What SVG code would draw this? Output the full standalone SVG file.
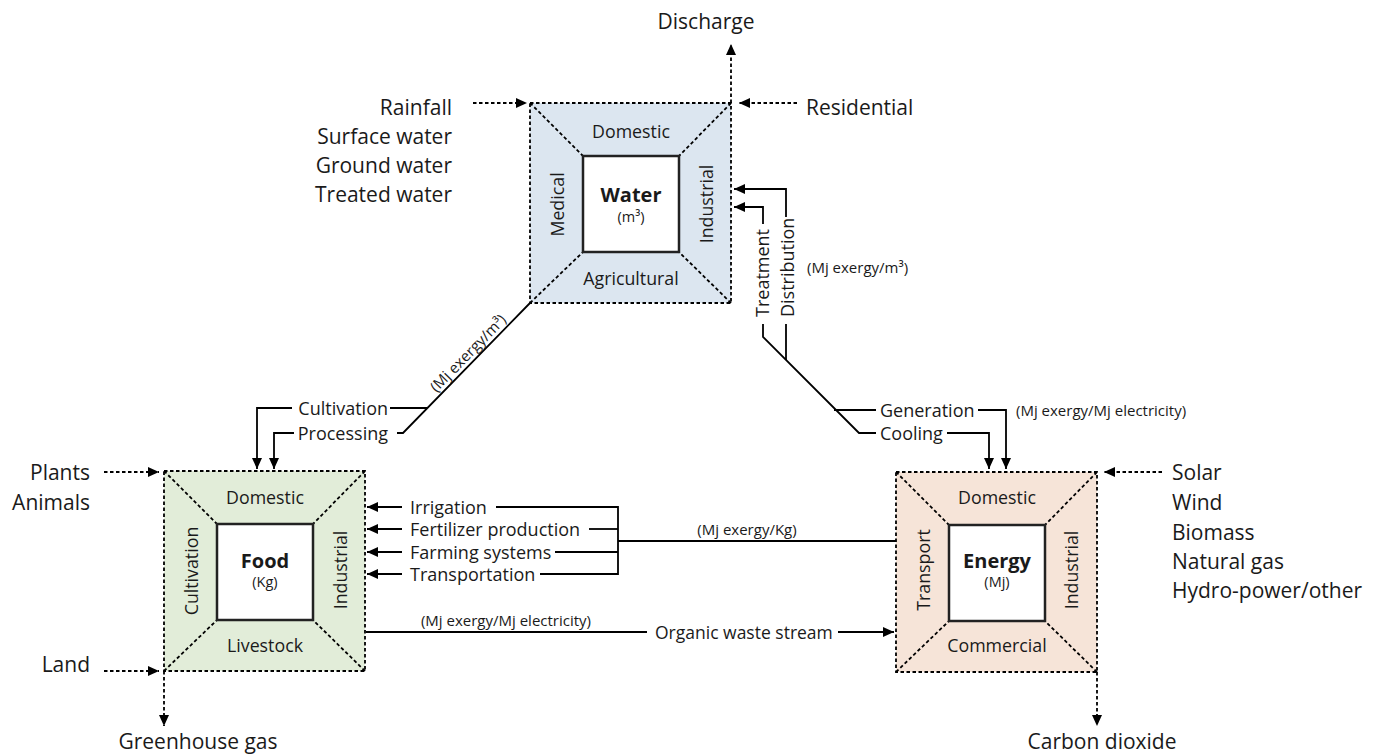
<svg xmlns="http://www.w3.org/2000/svg" width="1381" height="756" viewBox="0 0 1381 756">
<style>
text{font-family:"Open Sans","Liberation Sans",sans-serif;fill:#1a1a1a}
.out{font-size:21px}
.nl{font-size:17.8px}
.cl{font-size:18px}
.sm{font-size:15px}
.title{font-size:20px;font-weight:bold}
.unit{font-size:14.5px}
.dot{fill:none;stroke:#000;stroke-width:1.8;stroke-dasharray:3.5 2.5}
.inner{fill:#fff;stroke:#222;stroke-width:2.5}
.ln{fill:none;stroke:#000;stroke-width:1.8}
.w{fill:#dce6f0}
.f{fill:#e2edd9}
.e{fill:#f6e4d8}
</style>
<defs>
<marker id="ah" viewBox="0 0 11 10" refX="11" refY="5" markerWidth="11" markerHeight="10" markerUnits="userSpaceOnUse" orient="auto">
<path d="M0,0 L11,5 L0,10 z" fill="#000"/>
</marker>
</defs>

<g id="water">
<rect class="w" x="530" y="103" width="201" height="200"/>
<rect class="dot" x="530" y="103" width="201" height="200"/>
<path class="dot" d="M530,103 L583,156 M731,103 L679,156 M530,303 L583,252 M731,303 L679,252"/>
<rect class="inner" x="583" y="156" width="96" height="96"/>
<text class="nl" x="631" y="137.5" text-anchor="middle">Domestic</text>
<text class="nl" x="631" y="284.5" text-anchor="middle">Agricultural</text>
<text class="nl" transform="translate(564.4,204.5) rotate(-90)" text-anchor="middle">Medical</text>
<text class="nl" transform="translate(712.9,204) rotate(-90)" text-anchor="middle">Industrial</text>
<text class="title" x="631" y="202" text-anchor="middle">Water</text>
<text class="unit" x="631" y="222" text-anchor="middle">(m³)</text>
</g>

<g id="food">
<rect class="f" x="164" y="471" width="201" height="200"/>
<rect class="dot" x="164" y="471" width="201" height="200"/>
<path class="dot" d="M164,471 L217,524 M365,471 L313,524 M164,671 L217,620 M365,671 L313,620"/>
<rect class="inner" x="217" y="524" width="96" height="96"/>
<text class="nl" x="265" y="503.5" text-anchor="middle">Domestic</text>
<text class="nl" x="265" y="651.5" text-anchor="middle">Livestock</text>
<text class="nl" transform="translate(198.4,571) rotate(-90)" text-anchor="middle">Cultivation</text>
<text class="nl" transform="translate(347.4,570) rotate(-90)" text-anchor="middle">Industrial</text>
<text class="title" x="265" y="568" text-anchor="middle">Food</text>
<text class="unit" x="265" y="587" text-anchor="middle">(Kg)</text>
</g>

<g id="energy">
<rect class="e" x="896" y="472" width="201" height="200"/>
<rect class="dot" x="896" y="472" width="201" height="200"/>
<path class="dot" d="M896,472 L949,525 M1097,472 L1045,525 M896,672 L949,621 M1097,672 L1045,621"/>
<rect class="inner" x="949" y="525" width="96" height="96"/>
<text class="nl" x="997" y="503.5" text-anchor="middle">Domestic</text>
<text class="nl" x="997" y="651.5" text-anchor="middle">Commercial</text>
<text class="nl" transform="translate(930.4,570) rotate(-90)" text-anchor="middle">Transport</text>
<text class="nl" transform="translate(1078.4,570) rotate(-90)" text-anchor="middle">Industrial</text>
<text class="title" x="997" y="568" text-anchor="middle">Energy</text>
<text class="unit" x="997" y="587" text-anchor="middle">(Mj)</text>
</g>

<g id="water-io">
<text class="out" x="706" y="29" text-anchor="middle">Discharge</text>
<text class="out" x="452" y="115" text-anchor="end">Rainfall</text>
<text class="out" x="452" y="144" text-anchor="end">Surface water</text>
<text class="out" x="452" y="173" text-anchor="end">Ground water</text>
<text class="out" x="452" y="202" text-anchor="end">Treated water</text>
<text class="out" x="806" y="115">Residential</text>
</g>

<g id="food-io">
<text class="out" x="90" y="480" text-anchor="end">Plants</text>
<text class="out" x="90" y="510" text-anchor="end">Animals</text>
<text class="out" x="90" y="672" text-anchor="end">Land</text>
<text class="out" x="198" y="749" text-anchor="middle">Greenhouse gas</text>
</g>

<g id="energy-io">
<text class="out" x="1172" y="480">Solar</text>
<text class="out" x="1172" y="510">Wind</text>
<text class="out" x="1172" y="540">Biomass</text>
<text class="out" x="1172" y="569">Natural gas</text>
<text class="out" x="1172" y="598">Hydro-power/other</text>
<text class="out" x="1102" y="749" text-anchor="middle">Carbon dioxide</text>
</g>

<g id="connectors">
<line class="dot" x1="731" y1="103" x2="731" y2="44" marker-end="url(#ah)"/>
<line class="dot" x1="473" y1="103" x2="527" y2="103" marker-end="url(#ah)"/>
<line class="dot" x1="797" y1="103" x2="739" y2="103" marker-end="url(#ah)"/>
<line class="dot" x1="104" y1="472" x2="159" y2="472" marker-end="url(#ah)"/>
<line class="dot" x1="104" y1="671" x2="159" y2="671" marker-end="url(#ah)"/>
<line class="dot" x1="164" y1="671" x2="164" y2="726" marker-end="url(#ah)"/>
<line class="dot" x1="1162" y1="472" x2="1104" y2="472" marker-end="url(#ah)"/>
<line class="dot" x1="1097" y1="672" x2="1097" y2="726" marker-end="url(#ah)"/>

<polyline class="ln" points="786,217 786,189 734,189" marker-end="url(#ah)"/>
<polyline class="ln" points="763,224 763,207 734,207" marker-end="url(#ah)"/>
<line class="ln" x1="786" y1="324" x2="786" y2="360"/>
<polyline class="ln" points="763,324 763,337 859,433 876,433"/>
<line class="ln" x1="834" y1="410" x2="876" y2="410"/>
<text class="cl" transform="translate(769.4,317) rotate(-90)">Treatment</text>
<text class="cl" transform="translate(794.4,317) rotate(-90)">Distribution</text>
<text class="sm" x="807" y="273">(Mj exergy/m³)</text>
<text class="cl" x="880" y="416.5">Generation</text>
<text class="cl" x="880" y="439.5">Cooling</text>
<polyline class="ln" points="978,410 1006,410 1006,469" marker-end="url(#ah)"/>
<polyline class="ln" points="947,433 989,433 989,469" marker-end="url(#ah)"/>
<text class="sm" x="1016" y="415.5">(Mj exergy/Mj electricity)</text>

<polyline class="ln" points="397,433 403,433 530,303"/>
<line class="ln" x1="390" y1="408" x2="427" y2="408"/>
<polyline class="ln" points="292,408 257,408 257,469" marker-end="url(#ah)"/>
<polyline class="ln" points="294,433 274,433 274,469" marker-end="url(#ah)"/>
<text class="cl" x="388" y="414.5" text-anchor="end">Cultivation</text>
<text class="cl" x="388" y="439.5" text-anchor="end">Processing</text>
<text class="sm" transform="translate(474.7,359.6) rotate(-45.67)" x="0" y="-4" text-anchor="middle">(Mj exergy/m³)</text>

<line class="ln" x1="402" y1="507" x2="367" y2="507" marker-end="url(#ah)"/>
<line class="ln" x1="402" y1="529" x2="367" y2="529" marker-end="url(#ah)"/>
<line class="ln" x1="402" y1="552" x2="367" y2="552" marker-end="url(#ah)"/>
<line class="ln" x1="402" y1="574" x2="367" y2="574" marker-end="url(#ah)"/>
<text class="cl" x="410" y="513.5">Irrigation</text>
<text class="cl" x="410" y="535.5">Fertilizer production</text>
<text class="cl" x="410" y="558.5">Farming systems</text>
<text class="cl" x="410" y="580.5">Transportation</text>
<polyline class="ln" points="496,507 618,507 618,574 540,574"/>
<line class="ln" x1="589" y1="529" x2="618" y2="529"/>
<line class="ln" x1="555" y1="552" x2="618" y2="552"/>
<line class="ln" x1="618" y1="541" x2="896" y2="541"/>
<text class="sm" x="747" y="535" text-anchor="middle">(Mj exergy/Kg)</text>

<line class="ln" x1="366" y1="632" x2="647" y2="632"/>
<text class="sm" x="506" y="626" text-anchor="middle">(Mj exergy/Mj electricity)</text>
<text class="cl" x="655" y="638.5" style="font-size:17.5px">Organic waste stream</text>
<line class="ln" x1="838" y1="632" x2="894" y2="632" marker-end="url(#ah)"/>
</g>
</svg>
